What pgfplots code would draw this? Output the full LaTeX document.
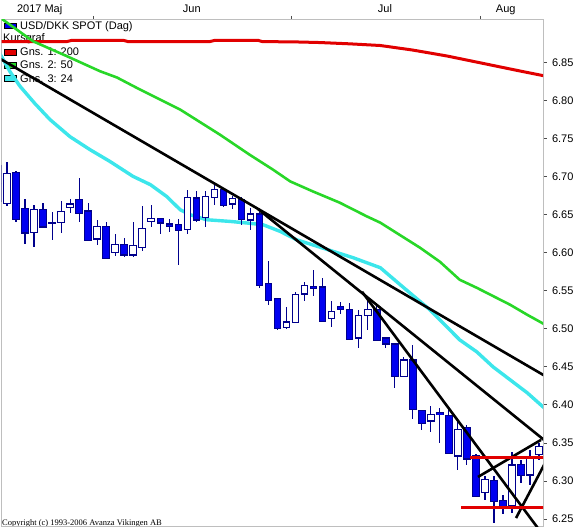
\documentclass[border=0pt]{standalone}
\usepackage{pgfplots}
\pgfplotsset{compat=1.18}
\usepackage{pgfplotstable}
\usepackage{fontspec}
\setmainfont{Liberation Sans}
\newfontfamily\copyfont{Liberation Serif}

\definecolor{candle}{RGB}{0,0,240}
\definecolor{candleedge}{RGB}{0,0,140}
\definecolor{ma200}{RGB}{225,0,0}
\definecolor{ma50}{RGB}{40,215,40}
\definecolor{ma24}{RGB}{60,230,235}
\definecolor{frame}{RGB}{190,190,190}

\newcommand\lab{\fontsize{11}{13}\selectfont}

% rising days (close > open)
\pgfplotstableread{
k o h l c
1 6.665 6.720 6.661 6.704
4 6.627 6.663 6.607 6.657
6 6.6388 6.654 6.617 6.6392
7 6.640 6.668 6.626 6.654
8 6.660 6.671 6.652 6.664
11 6.618 6.643 6.610 6.634
13 6.600 6.624 6.596 6.611
15 6.597 6.641 6.595 6.609
16 6.607 6.661 6.602 6.632
17 6.641 6.663 6.634 6.645
21 6.631 6.682 6.625 6.673
23 6.646 6.681 6.634 6.674
24 6.673 6.692 6.663 6.683
26 6.664 6.675 6.658 6.671
28 6.643 6.659 6.630 6.651
32 6.502 6.529 6.500 6.509
33 6.508 6.549 6.508 6.545
34 6.546 6.561 6.537 6.557
37 6.514 6.537 6.503 6.523
40 6.488 6.525 6.475 6.518
41 6.518 6.540 6.498 6.525
45 6.437 6.463 6.437 6.459
48 6.379 6.398 6.365 6.387
51 6.333 6.378 6.315 6.368
54 6.285 6.306 6.275 6.302
57 6.267 6.338 6.258 6.321
59 6.308 6.341 6.295 6.332
60 6.335 6.350 6.328 6.345
}\upc

% falling days
\pgfplotstableread{
k o h l c
0 6.714 6.720 6.660 6.668
2 6.705 6.707 6.640 6.644
3 6.658 6.671 6.612 6.626
5 6.657 6.665 6.633 6.634
9 6.670 6.698 6.641 6.652
10 6.655 6.666 6.616 6.616
12 6.635 6.641 6.593 6.593
14 6.611 6.619 6.595 6.597
18 6.645 6.645 6.625 6.639
19 6.638 6.644 6.627 6.635
20 6.637 6.644 6.584 6.629
22 6.672 6.681 6.641 6.643
25 6.683 6.685 6.660 6.662
27 6.670 6.674 6.637 6.644
29 6.651 6.654 6.554 6.557
30 6.560 6.589 6.532 6.537
31 6.540 6.540 6.499 6.500
35 6.556 6.577 6.543 6.553
36 6.555 6.567 6.510 6.510
38 6.529 6.535 6.520 6.525
39 6.525 6.534 6.485 6.486
42 6.525 6.534 6.484 6.485
43 6.488 6.489 6.475 6.480
44 6.480 6.481 6.422 6.437
46 6.459 6.479 6.381 6.394
47 6.393 6.393 6.367 6.376
49 6.390 6.396 6.350 6.387
50 6.386 6.398 6.336 6.336
52 6.370 6.374 6.321 6.329
53 6.333 6.335 6.279 6.280
55 6.301 6.306 6.245 6.273
56 6.274 6.282 6.257 6.266
58 6.322 6.328 6.297 6.307
}\dnc

\pgfplotsset{
  wick/.style={only marks, mark size=0pt, mark options={draw opacity=0, fill opacity=0},
    error bars/.cd, y dir=both, y explicit,
    error mark=none, error bar style={line width=1.2pt, candleedge}},
  body/.style 2 args={only marks, mark size=0pt, mark options={draw opacity=0, fill opacity=0},
    error bars/.cd, y dir=both, y explicit,
    error mark=none, error bar style={line width=#1, #2}},
}

\begin{document}
\begin{tikzpicture}
\useasboundingbox (0,0) rectangle (579pt,529pt);

% texts in screen pixels (y downwards)
\begin{scope}[x=1pt, y=-1pt, shift={(0pt,529pt)}, every node/.style={inner sep=0pt, font=\lab}]
  \node[anchor=base] at (39.7,12.9) {2017 Maj};
  \node[anchor=base] at (191.8,12.9) {Jun};
  \node[anchor=base] at (385,12.9) {Jul};
  \node[anchor=base] at (505.7,12.9) {Aug};

  \filldraw[fill=candle, draw=black, line width=0.8pt] (4,23) rectangle (16,28.5);
  \node[anchor=base west] at (20,30) {USD/DKK SPOT (Dag)};
  \node[anchor=base west] at (3,42) {Kursgraf};
  \filldraw[fill=ma200, draw=black, line width=0.8pt] (4,49) rectangle (16,55);
  \node[anchor=base west] at (20,56) {Gns. 1: 200};
  \filldraw[fill=ma50, draw=black, line width=0.8pt] (4,62) rectangle (16,68);
  \node[anchor=base west] at (20,69) {Gns. 2: 50};
  \filldraw[fill=ma24, draw=black, line width=0.8pt] (4,75) rectangle (16,81);
  \node[anchor=base west] at (20,82.5) {Gns. 3: 24};

  \node[anchor=base west, font=\copyfont\fontsize{8.5}{9}\selectfont] at (2,525.5)
    {Copyright (c) 1993-2006 Avanza Vikingen AB};
\end{scope}

\begin{axis}[
  at={(1.5pt,2pt)}, anchor=south west, scale only axis,
  width=541.5pt, height=507.5pt,
  xmin=0.388, xmax=60.44, ymin=6.2395, ymax=6.9066,
  axis line style={frame, line width=1pt},
  xtick={10.54,32.54,53.49}, xticklabels={}, xtick pos=right,
  ytick={6.25,6.30,6.35,6.40,6.45,6.50,6.55,6.60,6.65,6.70,6.75,6.80,6.85},
  ytick pos=right,
  tick align=outside, major tick length=3.5pt,
  tick style={black!70, line width=0.8pt},
  /pgf/number format/.cd, fixed, fixed zerofill, precision=2, assume math mode=true,
  /pgfplots/.cd,
  yticklabel style={font=\lab, anchor=west, xshift=2pt},
]

% moving averages
\addplot[ma200, line width=3pt] coordinates {
(0,6.8776) (7.65,6.8776) (8.2,6.8792) (13.9,6.8792) (14.4,6.8776) (23.5,6.8776)
(24.1,6.8793) (28.8,6.8793) (29.3,6.8776) (33.4,6.8770) (35.7,6.8763) (39.0,6.8746)
(42.4,6.8724) (46.0,6.8664) (49.8,6.8586) (53.5,6.8496) (57.1,6.8408) (60.7,6.8322)};

\addplot[ma50, line width=2.6pt] coordinates {
(0,6.911) (3.88,6.878) (7.65,6.8583) (11.31,6.8386) (13.2,6.8303) (15.75,6.8145)
(20.2,6.7882) (24.6,6.7553) (27.9,6.7289) (30.5,6.7092) (32.4,6.6938) (34.9,6.6807)
(37.9,6.6658) (40.9,6.6478) (42.4,6.6395) (46.8,6.6066) (49.0,6.5882) (51.2,6.5645)
(53.1,6.5539) (56.8,6.5316) (58.7,6.5184) (60.7,6.5053)};

\addplot[ma24, line width=3.4pt] coordinates {
(0.2,6.862) (1.33,6.838) (2.44,6.8188) (4.1,6.796) (5.77,6.775) (7.98,6.7526)
(10.2,6.7355) (12.4,6.7201) (14.97,6.7004) (16.9,6.6895) (18.7,6.674) (20.2,6.6566)
(21.3,6.65) (23.1,6.6434) (25.7,6.6412) (27.6,6.6391) (29.4,6.6368) (31.3,6.628)
(33.1,6.6171) (36.0,6.6062) (39.4,6.5934) (42.4,6.5803) (44.6,6.558) (47.9,6.525)
(51.2,6.4855) (53.1,6.4697) (54.9,6.45) (56.8,6.4329) (58.7,6.4158) (60.7,6.3947)};

% candles: wicks, then bodies (edge pass, then fill pass)
\addplot[wick] table[x=k, y expr={(\thisrow{h}+\thisrow{l})/2},
  y error expr={(\thisrow{h}-\thisrow{l})/2}] {\upc};
\addplot[wick] table[x=k, y expr={(\thisrow{h}+\thisrow{l})/2},
  y error expr={(\thisrow{h}-\thisrow{l})/2}] {\dnc};

\addplot[body={7.6pt}{candleedge}] table[x=k, y expr={(\thisrow{o}+\thisrow{c})/2},
  y error expr={abs(\thisrow{c}-\thisrow{o})/2+0.0008}] {\upc};
\addplot[body={5.6pt}{white}] table[x=k, y expr={(\thisrow{o}+\thisrow{c})/2},
  y error expr={max(abs(\thisrow{c}-\thisrow{o})/2-0.0008,0)}] {\upc};
\addplot[body={7.6pt}{candleedge}] table[x=k, y expr={(\thisrow{o}+\thisrow{c})/2},
  y error expr={abs(\thisrow{c}-\thisrow{o})/2+0.0008}] {\dnc};
\addplot[body={5.6pt}{candle}] table[x=k, y expr={(\thisrow{o}+\thisrow{c})/2},
  y error expr={max(abs(\thisrow{c}-\thisrow{o})/2-0.0008,0)}] {\dnc};

% trend lines
\addplot[black, line width=2.6pt] coordinates {(0,6.8566) (60.7,6.4378)};
\addplot[black, line width=2.6pt] coordinates {(28.83,6.6575) (60.6,6.3535)};
\addplot[black, line width=2.6pt] coordinates {(40.37,6.5487) (60.0,6.236)};
\addplot[black, line width=2.6pt] coordinates {(53.23,6.3053) (60.22,6.354)};
\addplot[black, line width=2.6pt] coordinates {(57.45,6.2513) (60.6,6.322)};

% support / resistance
\addplot[ma200, line width=3pt] coordinates {(52.35,6.3312) (60.7,6.3312)};
\addplot[ma200, line width=3pt] coordinates {(51.4,6.2654) (60.7,6.2654)};
\end{axis}
\end{tikzpicture}
\end{document}
